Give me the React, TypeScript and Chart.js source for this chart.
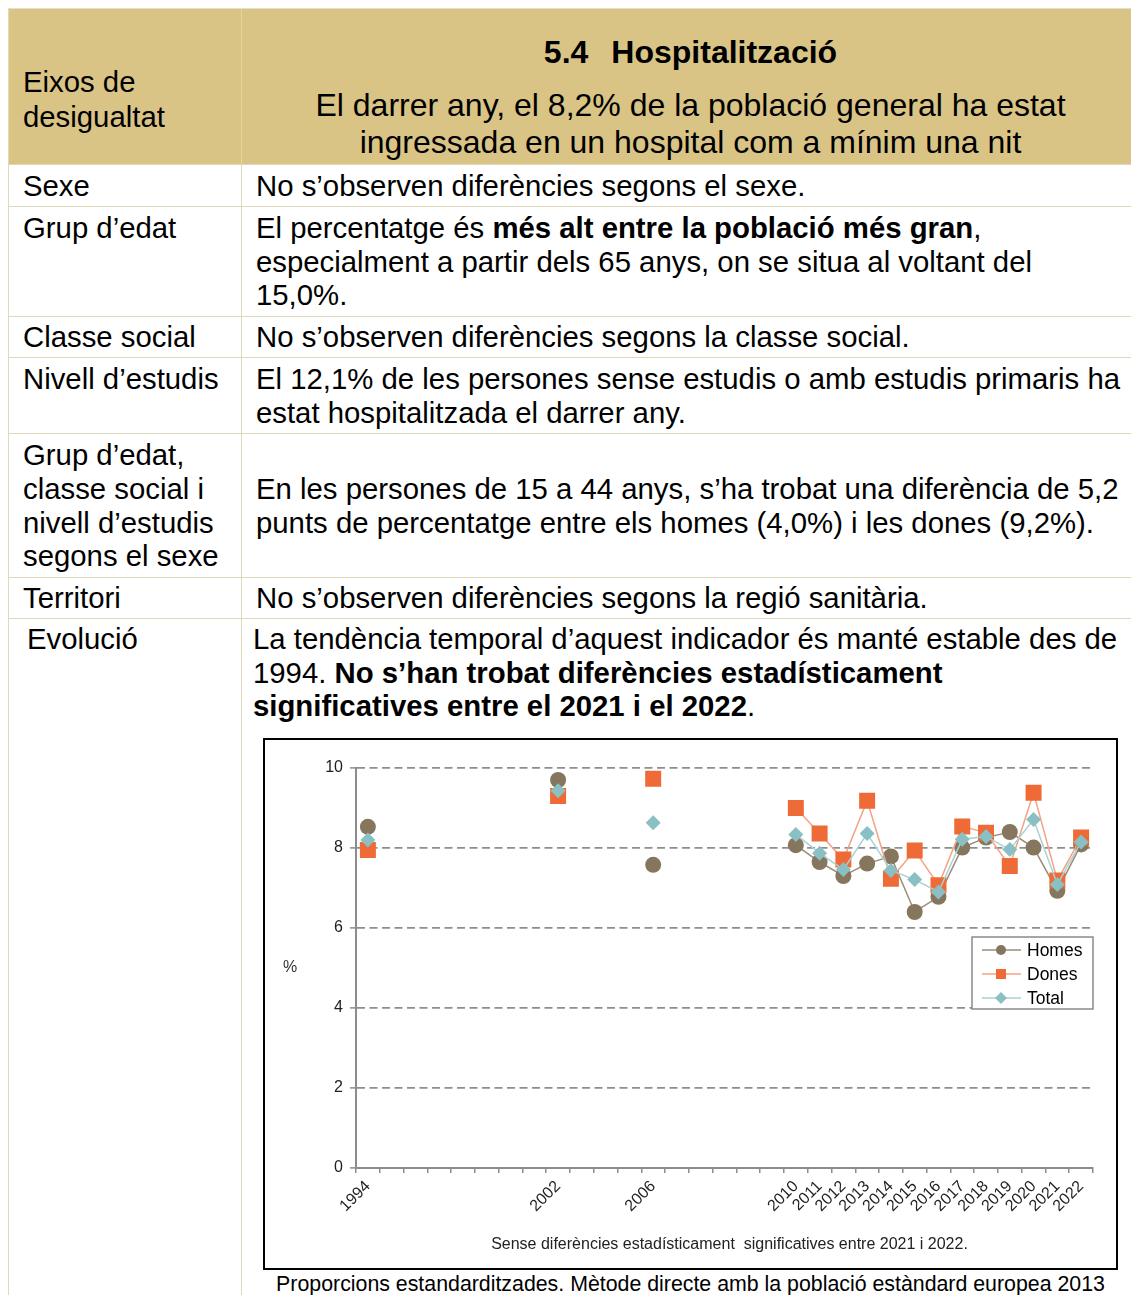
import React, { useEffect, useRef } from 'react';
import { Chart, registerables } from 'chart.js';

Chart.register(...registerables);

// ---------- DATA ----------
const YEARS = [
  '1994', '', '', '', '', '', '', '',
  '2002', '', '', '',
  '2006', '', '', '', '', '',
  '2010', '2011', '2012', '2013', '2014', '2015', '2016', '2017', '2018', '2019', '2020', '2021', '2022',
];
const HOMES = [
  8.53, null, null, null, null, null, null, null,
  9.70, null, null, null,
  7.58, null, null, null, null, null,
  8.07, 7.65, 7.30, 7.61, 7.79, 6.40, 6.78, 8.01, 8.26, 8.40, 8.01, 6.93, 8.09,
];
const DONES = [
  7.95, null, null, null, null, null, null, null,
  9.30, null, null, null,
  9.73, null, null, null, null, null,
  9.00, 8.36, 7.71, 9.18, 7.23, 7.94, 7.07, 8.54, 8.38, 7.55, 9.38, 7.19, 8.26,
];
const TOTAL = [
  8.20, null, null, null, null, null, null, null,
  9.43, null, null, null,
  8.63, null, null, null, null, null,
  8.34, 7.87, 7.46, 8.36, 7.44, 7.21, 6.90, 8.22, 8.29, 7.96, 8.71, 7.09, 8.15,
];
const SERIES_LABELS = ['Homes', 'Dones', 'Total'];
const Y_MIN = 0;
const Y_MAX = 10;
const Y_STEP = 2;
const Y_TITLE = '%';
const CHART_NOTE = 'Sense diferències estadísticament  significatives entre 2021 i 2022.';

// ---------- STYLE ----------
const FONT = '"Liberation Sans", Arial, Helvetica, sans-serif';
const HEADER_BG = '#D9C486';
const LINE = '#E0D8BA';
const AXIS_GREY = '#8C8C8C';
const GRID_GREY = '#8E8E8E';

const SERIES_STYLE = [
  { point: '#85765D', line: '#9A8C77', style: 'circle', radius: 8, legendSize: 5 },
  { point: '#EE6A36', line: '#F3A283', style: 'rect', radius: 11.3, legendSize: 5 },
  { point: '#8ABFC3', line: '#A8D2D5', style: 'rectRot', radius: 7.5, legendSize: 6 },
];

function drawMarker(ctx: CanvasRenderingContext2D, style: string, x: number, y: number, s: number, color: string) {
  ctx.fillStyle = color;
  ctx.beginPath();
  if (style === 'circle') {
    ctx.arc(x, y, s, 0, Math.PI * 2);
  } else if (style === 'rect') {
    ctx.rect(x - s, y - s, 2 * s, 2 * s);
  } else {
    ctx.moveTo(x - s, y);
    ctx.lineTo(x, y - s);
    ctx.lineTo(x + s, y);
    ctx.lineTo(x, y + s);
    ctx.closePath();
  }
  ctx.fill();
}

const overlayPlugin = {
  id: 'overlayPlugin',
  afterDraw(chart: any) {
    const { ctx, chartArea } = chart;
    ctx.save();
    // y title
    ctx.font = `16px ${FONT}`;
    ctx.fillStyle = '#333';
    ctx.textAlign = 'center';
    ctx.textBaseline = 'middle';
    ctx.fillText(Y_TITLE, chartArea.left - 66, (chartArea.top + chartArea.bottom) / 2);

    // note
    ctx.font = `16px ${FONT}`;
    ctx.fillStyle = '#222';
    ctx.fillText(CHART_NOTE, (chartArea.left + chartArea.right) / 2 + 5, chartArea.bottom + 77);

    // legend
    const boxW = 121;
    const boxH = 72;
    const bx = chartArea.right - boxW;
    const by = chartArea.top + 169;
    ctx.fillStyle = '#fff';
    ctx.fillRect(bx, by, boxW, boxH);
    ctx.strokeStyle = '#8A8A8A';
    ctx.lineWidth = 1.5;
    ctx.strokeRect(bx, by, boxW, boxH);
    const ds = chart.data.datasets;
    ctx.font = `17.5px ${FONT}`;
    ctx.textAlign = 'left';
    ctx.textBaseline = 'middle';
    for (let i = 0; i < ds.length; i++) {
      const st = SERIES_STYLE[i];
      const ry = by + 13 + i * 24;
      ctx.strokeStyle = st.line;
      ctx.lineWidth = 1.5;
      ctx.beginPath();
      ctx.moveTo(bx + 10, ry);
      ctx.lineTo(bx + 49, ry);
      ctx.stroke();
      drawMarker(ctx, st.style, bx + 29, ry, st.legendSize, st.point);
      ctx.fillStyle = '#000';
      ctx.fillText(ds[i].label, bx + 55, ry + 1);
    }
    ctx.restore();
  },
};

function TrendChart() {
  const ref = useRef<HTMLCanvasElement>(null);
  useEffect(() => {
    const values = [HOMES, DONES, TOTAL];
    const chart = new Chart(ref.current as HTMLCanvasElement, {
      type: 'line',
      data: {
        labels: YEARS,
        datasets: SERIES_LABELS.map((label, i) => ({
          label,
          data: values[i],
          borderColor: SERIES_STYLE[i].line,
          backgroundColor: SERIES_STYLE[i].point,
          borderWidth: 1.5,
          pointStyle: SERIES_STYLE[i].style as any,
          pointRadius: SERIES_STYLE[i].radius,
          pointBackgroundColor: SERIES_STYLE[i].point,
          pointBorderWidth: 0,
          pointHoverRadius: SERIES_STYLE[i].radius,
          spanGaps: false,
          tension: 0,
          order: 3 - i,
        })),
      },
      options: {
        animation: false,
        responsive: false,
        events: [],
        layout: { padding: { top: 28, right: 23, left: 0, bottom: 0 } },
        plugins: {
          legend: { display: false },
          tooltip: { enabled: false },
          title: { display: false },
        },
        scales: {
          x: {
            type: 'category',
            offset: true,
            grid: {
              display: true,
              drawOnChartArea: false,
              drawTicks: true,
              tickLength: 5,
              offset: true,
              color: AXIS_GREY,
              lineWidth: 1.5,
              tickColor: AXIS_GREY,
              tickWidth: 1.5,
            },
            border: { display: true, color: AXIS_GREY, width: 2 },
            ticks: {
              autoSkip: false,
              minRotation: 45,
              maxRotation: 45,
              padding: 4,
              color: '#222',
              font: { family: FONT, size: 16 },
            },
            afterFit: (s: any) => {
              s.height = 100;
            },
          },
          y: {
            min: Y_MIN,
            max: Y_MAX,
            ticks: {
              stepSize: Y_STEP,
              padding: 7,
              color: '#222',
              font: { family: FONT, size: 16 },
            },
            grid: {
              color: GRID_GREY,
              lineWidth: 1.8,
              drawTicks: true,
              tickLength: 6,
              tickColor: AXIS_GREY,
              tickWidth: 1.5,
            },
            border: { display: true, color: AXIS_GREY, width: 2, dash: [8, 4.5] },
            afterFit: (s: any) => {
              s.width = 91;
            },
          },
        },
      },
      plugins: [overlayPlugin],
    } as any);
    return () => chart.destroy();
  }, []);
  return <canvas ref={ref} width={851} height={528} style={{ display: 'block' }} />;
}

const bodyText: React.CSSProperties = { fontSize: '29.33px', lineHeight: '33.7px' };

function Row(props: {
  height: number;
  left: React.ReactNode;
  right: React.ReactNode;
  leftStyle?: React.CSSProperties;
  rightStyle?: React.CSSProperties;
  bg?: string;
  divider?: string;
  center?: boolean;
}) {
  const { height, left, right, leftStyle, rightStyle, bg, divider, center = true } = props;
  return (
    <div
      style={{
        display: 'flex',
        height,
        borderBottom: `1px solid ${LINE}`,
        background: bg || 'transparent',
      }}
    >
      <div
        style={{
          width: 233,
          flex: '0 0 233px',
          borderRight: `1px solid ${divider || LINE}`,
          paddingLeft: 14,
          boxSizing: 'border-box',
          display: center ? 'flex' : 'block',
          alignItems: 'center',
          ...bodyText,
          ...leftStyle,
        }}
      >
        <div>{left}</div>
      </div>
      <div
        style={{
          flex: '0 0 888px',
          width: 888,
          paddingLeft: 14,
          paddingRight: 5,
          boxSizing: 'border-box',
          display: center ? 'flex' : 'block',
          alignItems: 'center',
          ...bodyText,
          ...rightStyle,
        }}
      >
        <div>{right}</div>
      </div>
    </div>
  );
}

export default function App() {
  return (
    <div style={{ height: 1287 }}>
      <style>{`html{overflow:hidden;}`}</style>
      <div
        style={{
          position: 'absolute',
          left: 8,
          top: 8,
          width: 1123,
          borderTop: `1px solid #E6DFC7`,
          borderLeft: `1px solid ${LINE}`,
          fontFamily: FONT,
          color: '#000',
          boxSizing: 'border-box',
        }}
      >
        <Row
          height={155}
          bg={HEADER_BG}
          divider="#E3D4A0"
          center={false}
          left={<span>Eixos de<br />desigualtat</span>}
          leftStyle={{ paddingTop: 55, lineHeight: '35px' }}
          right={
            <div style={{ textAlign: 'center' }}>
              <div style={{ fontWeight: 700, fontSize: 32, lineHeight: '37px', paddingTop: 25 }}>
                5.4<span style={{ marginLeft: 23 }}>Hospitalització</span>
              </div>
              <div style={{ fontSize: 32, lineHeight: '37px', marginTop: 16 }}>
                El darrer any, el 8,2% de la població general ha estat
                <br />
                ingressada en un hospital com a mínim una nit
              </div>
            </div>
          }
          rightStyle={{ display: 'block' }}
        />
        <Row height={41} left="Sexe" right="No s’observen diferències segons el sexe." />
        <Row
          height={109}
          left="Grup d’edat"
          leftStyle={{ alignItems: 'flex-start', paddingTop: 4 }}
          right={
            <span>
              El percentatge és <b>més alt entre la població més gran</b>, especialment a partir dels 65 anys, on se
              situa al voltant del 15,0%.
            </span>
          }
        />
        <Row height={40} left="Classe social" right="No s’observen diferències segons la classe social." />
        <Row
          height={75}
          left="Nivell d’estudis"
          leftStyle={{ alignItems: 'flex-start', paddingTop: 4 }}
          right="El 12,1% de les persones sense estudis o amb estudis primaris ha estat hospitalitzada el darrer any."
        />
        <Row
          height={143}
          left="Grup d’edat, classe social i nivell d’estudis segons el sexe"
          right="En les persones de 15 a 44 anys, s’ha trobat una diferència de 5,2 punts de percentatge entre els homes (4,0%) i les dones (9,2%)."
        />
        <Row height={40} left="Territori" right="No s’observen diferències segons la regió sanitària." />
        <Row
          height={720}
          center={false}
          left="Evolució"
          leftStyle={{ paddingLeft: 18, paddingTop: 3 }}
          right={
            <div>
              <div>
                La tendència temporal d’aquest indicador és manté estable des de 1994.{' '}
                <b>No s’han trobat diferències estadísticament significatives entre el 2021 i el 2022</b>.
              </div>
              <div style={{ marginLeft: 10, marginTop: 15, width: 855 }}>
                <div style={{ border: '2px solid #000', width: 851, height: 528 }}>
                  <TrendChart />
                </div>
                <div style={{ textAlign: 'center', fontSize: '21.33px', lineHeight: '24.5px', marginTop: 2 }}>
                  Proporcions estandarditzades. Mètode directe amb la població estàndard europea 2013
                </div>
              </div>
            </div>
          }
          rightStyle={{ paddingLeft: 11, paddingTop: 3 }}
        />
      </div>
    </div>
  );
}
